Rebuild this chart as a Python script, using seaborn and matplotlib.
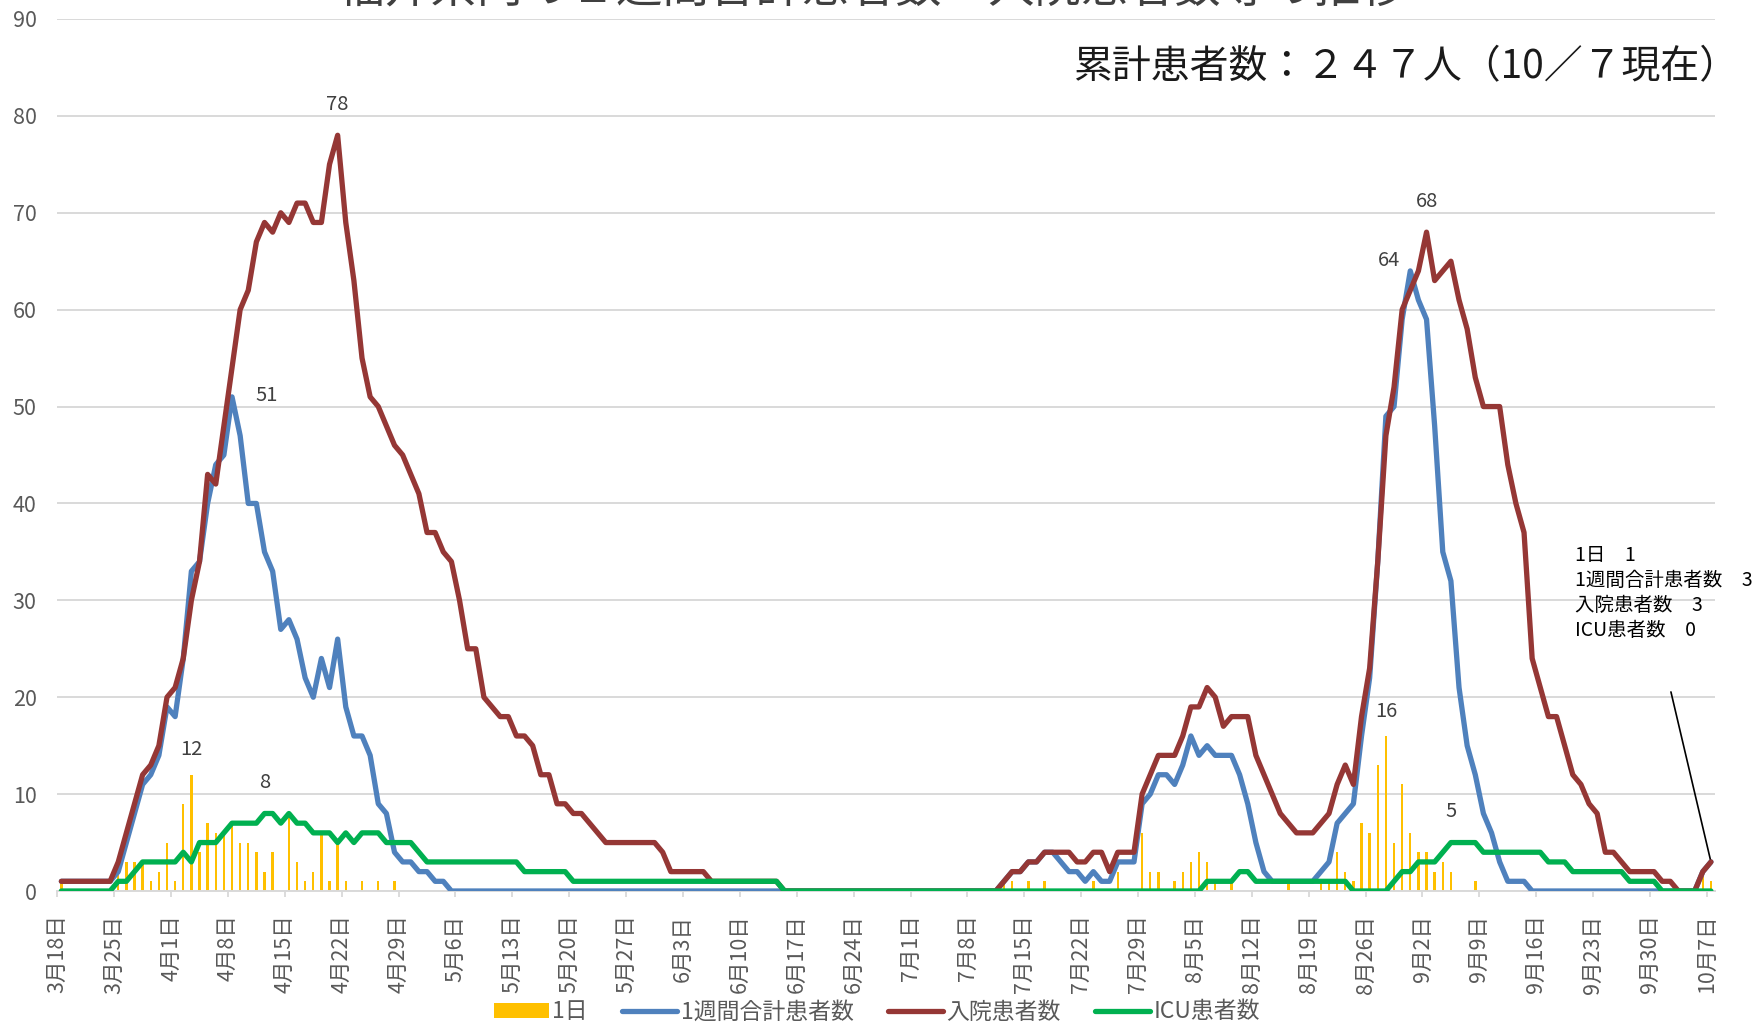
import numpy as np
import pandas as pd
import matplotlib
matplotlib.use("Agg")
import matplotlib.pyplot as plt
import seaborn as sns
from matplotlib.lines import Line2D
from matplotlib.patches import Patch

# one value per day, 3/18 .. 10/7 (each row = two weeks)
new_cases = [
    1, 0, 0, 0, 0, 0, 0, 2, 3, 3, 3, 1, 2, 5,
    1, 9, 12, 4, 7, 6, 6, 7, 5, 5, 4, 2, 4, 0,
    8, 3, 1, 2, 6, 1, 5, 1, 0, 1, 0, 1, 0, 1,
    0, 0, 0, 0, 0, 0, 0, 0, 0, 0, 0, 0, 0, 0,
    0, 0, 0, 0, 0, 0, 0, 0, 0, 0, 0, 0, 0, 0,
    0, 0, 0, 0, 0, 0, 0, 0, 0, 0, 0, 0, 0, 0,
    0, 0, 0, 0, 0, 0, 0, 0, 0, 0, 0, 0, 0, 0,
    0, 0, 0, 0, 0, 0, 0, 0, 0, 0, 0, 0, 0, 0,
    0, 0, 0, 0, 1, 1, 0, 1, 0, 1, 0, 0, 0, 0,
    0, 1, 0, 0, 2, 0, 0, 6, 2, 2, 0, 1, 2, 3,
    4, 3, 1, 0, 1, 0, 0, 0, 0, 0, 0, 1, 0, 0,
    0, 1, 1, 4, 2, 1, 7, 6, 13, 16, 5, 11, 6, 4,
    4, 2, 3, 2, 0, 0, 1, 0, 0, 0, 0, 0, 0, 0,
    0, 0, 0, 0, 0, 0, 0, 0, 0, 0, 0, 0, 0, 0,
    0, 0, 0, 0, 0, 0, 2,
    1,
]

weekly_total = [
    1, 1, 1, 1, 1, 1, 1, 2, 5, 8, 11, 12, 14, 19,
    18, 24, 33, 34, 40, 44, 45, 51, 47, 40, 40, 35, 33, 27,
    28, 26, 22, 20, 24, 21, 26, 19, 16, 16, 14, 9, 8, 4,
    3, 3, 2, 2, 1, 1, 0, 0, 0, 0, 0, 0, 0, 0,
    0, 0, 0, 0, 0, 0, 0, 0, 0, 0, 0, 0, 0, 0,
    0, 0, 0, 0, 0, 0, 0, 0, 0, 0, 0, 0, 0, 0,
    0, 0, 0, 0, 0, 0, 0, 0, 0, 0, 0, 0, 0, 0,
    0, 0, 0, 0, 0, 0, 0, 0, 0, 0, 0, 0, 0, 0,
    0, 0, 0, 0, 1, 2, 2, 3, 3, 4, 4, 3, 2, 2,
    1, 2, 1, 1, 3, 3, 3, 9, 10, 12, 12, 11, 13, 16,
    14, 15, 14, 14, 14, 12, 9, 5, 2, 1, 1, 1, 1, 1,
    1, 2, 3, 7, 8, 9, 16, 22, 34, 49, 50, 59, 64, 61,
    59, 48, 35, 32, 21, 15, 12, 8, 6, 3, 1, 1, 1, 0,
    0, 0, 0, 0, 0, 0, 0, 0, 0, 0, 0, 0, 0, 0,
    0, 0, 0, 0, 0, 0, 2,
    3,
]

hospitalized = [
    1, 1, 1, 1, 1, 1, 1, 3, 6, 9, 12, 13, 15, 20,
    21, 24, 30, 34, 43, 42, 48, 54, 60, 62, 67, 69, 68, 70,
    69, 71, 71, 69, 69, 75, 78, 69, 63, 55, 51, 50, 48, 46,
    45, 43, 41, 37, 37, 35, 34, 30, 25, 25, 20, 19, 18, 18,
    16, 16, 15, 12, 12, 9, 9, 8, 8, 7, 6, 5, 5, 5,
    5, 5, 5, 5, 4, 2, 2, 2, 2, 2, 1, 1, 1, 1,
    1, 1, 1, 1, 1, 0, 0, 0, 0, 0, 0, 0, 0, 0,
    0, 0, 0, 0, 0, 0, 0, 0, 0, 0, 0, 0, 0, 0,
    0, 0, 0, 0, 1, 2, 2, 3, 3, 4, 4, 4, 4, 3,
    3, 4, 4, 2, 4, 4, 4, 10, 12, 14, 14, 14, 16, 19,
    19, 21, 20, 17, 18, 18, 18, 14, 12, 10, 8, 7, 6, 6,
    6, 7, 8, 11, 13, 11, 18, 23, 34, 47, 52, 60, 62, 64,
    68, 63, 64, 65, 61, 58, 53, 50, 50, 50, 44, 40, 37, 24,
    21, 18, 18, 15, 12, 11, 9, 8, 4, 4, 3, 2, 2, 2,
    2, 1, 1, 0, 0, 0, 2,
    3,
]

icu = [
    0, 0, 0, 0, 0, 0, 0, 1, 1, 2, 3, 3, 3, 3,
    3, 4, 3, 5, 5, 5, 6, 7, 7, 7, 7, 8, 8, 7,
    8, 7, 7, 6, 6, 6, 5, 6, 5, 6, 6, 6, 5, 5,
    5, 5, 4, 3, 3, 3, 3, 3, 3, 3, 3, 3, 3, 3,
    3, 2, 2, 2, 2, 2, 2, 1, 1, 1, 1, 1, 1, 1,
    1, 1, 1, 1, 1, 1, 1, 1, 1, 1, 1, 1, 1, 1,
    1, 1, 1, 1, 1, 0, 0, 0, 0, 0, 0, 0, 0, 0,
    0, 0, 0, 0, 0, 0, 0, 0, 0, 0, 0, 0, 0, 0,
    0, 0, 0, 0, 0, 0, 0, 0, 0, 0, 0, 0, 0, 0,
    0, 0, 0, 0, 0, 0, 0, 0, 0, 0, 0, 0, 0, 0,
    0, 1, 1, 1, 1, 2, 2, 1, 1, 1, 1, 1, 1, 1,
    1, 1, 1, 1, 1, 0, 0, 0, 0, 0, 1, 2, 2, 3,
    3, 3, 4, 5, 5, 5, 5, 4, 4, 4, 4, 4, 4, 4,
    4, 3, 3, 3, 2, 2, 2, 2, 2, 2, 2, 1, 1, 1,
    1, 0, 0, 0, 0, 0, 0,
    0,
]

tick_labels = ["3月18日", "3月25日", "4月1日", "4月8日", "4月15日", "4月22日",
               "4月29日", "5月6日", "5月13日", "5月20日", "5月27日", "6月3日",
               "6月10日", "6月17日", "6月24日", "7月1日", "7月8日", "7月15日",
               "7月22日", "7月29日", "8月5日", "8月12日", "8月19日", "8月26日",
               "9月2日", "9月9日", "9月16日", "9月23日", "9月30日", "10月7日"]

names = ["1日", "1週間合計患者数", "入院患者数", "ICU患者数"]
colors = ["#FFC000", "#4F81BD", "#953735", "#00B050"]

days = np.arange(len(new_cases))
df = pd.DataFrame({"day": days, names[0]: new_cases, names[1]: weekly_total,
                   names[2]: hospitalized, names[3]: icu})

sns.set_theme(style="white")
plt.rcParams["font.family"] = ["Noto Sans CJK JP", "DejaVu Sans"]

W, H = 1764, 1023
fig = plt.figure(figsize=(W / 100, H / 100), dpi=100)
ax = fig.add_axes([57.3 / W, 1 - 891 / H, (1715 - 57.3) / W, (891 - 19) / H])

# bars + lines
sns.barplot(data=df, x="day", y=names[0], color=colors[0], saturation=1,
            width=0.3, native_scale=True, linewidth=0, ax=ax, zorder=2)
for name, col, z in zip(names[1:], colors[1:], [3, 4, 5]):
    sns.lineplot(data=df, x="day", y=name, color=col, linewidth=3.8, ax=ax,
                 legend=False, zorder=z, solid_joinstyle="round",
                 solid_capstyle="round")

ax.set_xlim(-0.5, len(days) - 0.5)
ax.set_ylim(0, 90)
ax.set_yticks(range(0, 91, 10))
ax.set_xticks(np.arange(0, len(days), 7) - 0.5)
ax.set_xticklabels(tick_labels, rotation=90, fontsize=15.5, color="#595959")
ax.tick_params(axis="x", length=4, width=1.3, color="#d9d9d9", pad=13, bottom=True)
ax.tick_params(axis="y", length=0, pad=15, labelsize=15.5, labelcolor="#595959")
ax.set_xlabel("")
ax.set_ylabel("")
ax.yaxis.grid(True, color="#d9d9d9", linewidth=1.4)
ax.set_axisbelow(True)
for side in ["left", "right", "top"]:
    ax.spines[side].set_visible(False)
ax.spines["bottom"].set_color("#d9d9d9")
ax.spines["bottom"].set_linewidth(1.4)


# data labels
def label(x, y, txt, dx, dy):
    ax.annotate(txt, xy=(x, y), xytext=(dx, dy), textcoords="offset pixels",
                ha="center", va="center", fontsize=14.5, color="#404040", zorder=6)


label(34, hospitalized[34], "78", 0, 31)
label(21, weekly_total[21], "51", 35, 1)
label(16, new_cases[16], "12", 0, 25)
label(25, icu[25], "8", 0, 31)
label(166, weekly_total[166], "64", -21, 10)
label(168, hospitalized[168], "68", 0, 31)
label(163, new_cases[163], "16", 0, 24)
label(171, icu[171], "5", 0, 31)

# latest values callout
fig.text(1575 / W, 1 - 545 / H,
         "1日　1\n1週間合計患者数　3\n入院患者数　3\nICU患者数　0",
         ha="left", va="top", fontsize=14, color="black", linespacing=1.25)
ax.annotate("", xy=(days[-1], hospitalized[-1]), xytext=(-40, 170),
            textcoords="offset pixels",
            arrowprops=dict(arrowstyle="-", color="black", lw=1.2,
                            shrinkA=0, shrinkB=0), annotation_clip=False)

# titles (the main title is cut off at the top edge, as in the original)
fig.text(1738 / W, 1 - 67 / H, "累計患者数：２４７人（10／７現在）",
         ha="right", va="center", fontsize=28, color="#1a1a1a")
fig.text(872 / W, 1 - 2 / H, "福井県内の１週間合計患者数・入院患者数等の推移",
         ha="center", va="baseline", fontsize=33.5, color="#404040")

# legend
handles = [Patch(facecolor=colors[0], edgecolor="none")]
handles += [Line2D([0], [0], color=c, linewidth=3.8) for c in colors[1:]]
fig.legend(handles, names, loc="center", bbox_to_anchor=(877 / W, 1 - 1012 / H),
           ncol=4, frameon=False, fontsize=16.5, labelcolor="#595959",
           handlelength=2.4, handleheight=0.6, handletextpad=0.15,
           columnspacing=1.5)

fig.savefig("out.png", dpi=100)
